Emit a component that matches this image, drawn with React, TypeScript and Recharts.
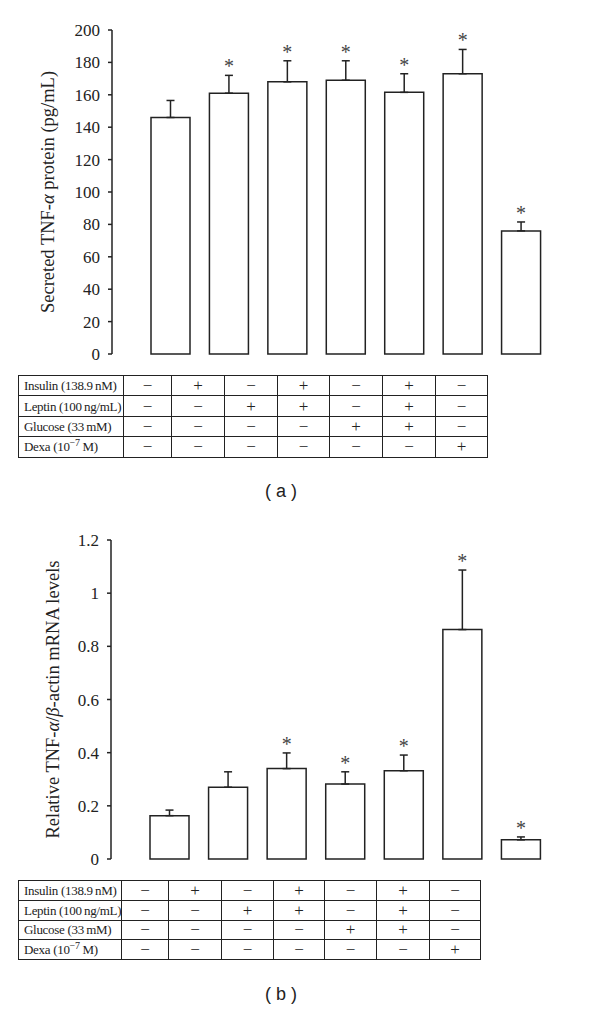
import React from 'react'
import { BarChart, Bar, XAxis, YAxis, ErrorBar, LabelList, Label } from 'recharts'

// treatment groups (columns of the tables under each panel)
const groups = ['G1', 'G2', 'G3', 'G4', 'G5', 'G6', 'G7']

// panel (a): secreted TNF-α protein (pg/mL)
const proteinValues = [146, 161, 168, 169, 161.5, 173, 76]
const proteinErrors = [10.5, 11, 13, 12, 11.5, 15, 5.5]
const proteinStars = [false, true, true, true, true, true, true]
const proteinTicks = [0, 20, 40, 60, 80, 100, 120, 140, 160, 180, 200]

// panel (b): relative TNF-α/β-actin mRNA levels
const mrnaValues = [0.163, 0.27, 0.34, 0.282, 0.332, 0.863, 0.072]
const mrnaErrors = [0.021, 0.058, 0.059, 0.046, 0.059, 0.224, 0.011]
const mrnaStars = [false, false, true, true, true, true, true]
const mrnaTicks = [0, 0.2, 0.4, 0.6, 0.8, 1, 1.2]

// treatment table
const insulinSigns = ['−', '+', '−', '+', '−', '+', '−']
const leptinSigns = ['−', '−', '+', '+', '−', '+', '−']
const glucoseSigns = ['−', '−', '−', '−', '+', '+', '−']
const dexaSigns = ['−', '−', '−', '−', '−', '−', '+']

const SERIF = '"Liberation Serif", "Times New Roman", serif'
const INK = '#222'

const buildData = (values: number[], errors: number[], stars: boolean[]) =>
  groups.map((name, i) => ({ name, value: values[i], err: [0, errors[i]], e: errors[i], star: stars[i] }))

const StarLabel = (props: any) => {
  const vb = props.viewBox || props
  const x = vb.x ?? props.x
  const y = vb.y ?? props.y
  const width = vb.width ?? props.width
  const height = vb.height ?? props.height
  const { index, data } = props
  const d = data[index]
  if (!d || !d.star) return null
  const ppu = height / d.value
  const errTop = y - d.e * ppu
  return (
    <text x={x + width / 2} y={errTop - 2} textAnchor="middle" fontFamily={SERIF} fontSize={20} fill="#444">
      *
    </text>
  )
}

const YTitle = ({ viewBox, parts, cxAbs }: any) => {
  const cy = viewBox.y + viewBox.height / 2
  const cx = cxAbs
  return (
    <text
      x={cx}
      y={cy}
      transform={`rotate(-90 ${cx} ${cy})`}
      textAnchor="middle"
      dominantBaseline="central"
      fontFamily={SERIF}
      fontSize={18.5}
      fill={INK}
    >
      {parts.map((p: any, i: number) => (
        <tspan key={i} fontStyle={p.italic ? 'italic' : 'normal'}>
          {p.t}
        </tspan>
      ))}
    </text>
  )
}

interface PanelProps {
  values: number[]
  errors: number[]
  stars: boolean[]
  ticks: number[]
  max: number
  top: number
  height: number
  marginTop: number
  marginBottom: number
  axisWidth: number
  titleX: number
  titleParts: { t: string; italic?: boolean }[]
}

const Panel: React.FC<PanelProps> = ({
  values, errors, stars, ticks, max, top, height, marginTop, marginBottom, axisWidth, titleX, titleParts,
}) => {
  const data = buildData(values, errors, stars)
  return (
    <div style={{ position: 'absolute', left: 0, top }}>
      <BarChart width={600} height={height} data={data} margin={{ top: marginTop, right: 21, left: 0, bottom: marginBottom }}>
        <XAxis
          dataKey="name"
          tick={false}
          tickLine={false}
          height={0}
          padding={{ left: 29, right: 29 }}
          axisLine={{ stroke: INK, strokeWidth: 1.5 }}
        />
        <YAxis
          width={axisWidth}
          domain={[0, max]}
          ticks={ticks}
          interval={0}
          tickSize={4}
          tickMargin={8}
          axisLine={{ stroke: INK, strokeWidth: 1.5 }}
          tickLine={{ stroke: INK, strokeWidth: 1.5 }}
          tick={{ fill: INK, fontSize: 17, fontFamily: SERIF }}
        >
          <Label content={(p: any) => <YTitle {...p} parts={titleParts} cxAbs={titleX} />} />
        </YAxis>
        <Bar dataKey="value" barSize={39} fill="#fff" stroke={INK} strokeWidth={1.5} isAnimationActive={false}>
          <ErrorBar dataKey="err" width={4} stroke={INK} strokeWidth={1.5} direction="y" />
          <LabelList dataKey="value" content={(p: any) => <StarLabel {...p} data={data} />} />
        </Bar>
      </BarChart>
    </div>
  )
}

const cell: React.CSSProperties = {
  border: `1.5px solid ${INK}`,
  padding: 0,
  textAlign: 'center',
  fontFamily: SERIF,
  fontSize: 17,
  lineHeight: 1,
  color: INK,
}

const labelCell: React.CSSProperties = {
  ...cell,
  textAlign: 'left',
  paddingLeft: 5,
  fontSize: 13,
  letterSpacing: -0.3,
  whiteSpace: 'nowrap',
}

const TreatmentTable: React.FC<{ left: number; top: number; widths: number[]; rowH: number }> = ({ left, top, widths, rowH }) => {
  const rows: { label: React.ReactNode; signs: string[] }[] = [
    { label: 'Insulin (138.9\u2009nM)', signs: insulinSigns },
    { label: 'Leptin (100\u2009ng/mL)', signs: leptinSigns },
    { label: 'Glucose (33\u2009mM)', signs: glucoseSigns },
    { label: <>Dexa (10<sup style={{ fontSize: 10, lineHeight: 0 }}>−7</sup> M)</>, signs: dexaSigns },
  ]
  return (
    <table
      style={{
        position: 'absolute',
        left,
        top,
        borderCollapse: 'collapse',
        tableLayout: 'fixed',
        width: widths.reduce((a, b) => a + b, 0),
      }}
    >
      <colgroup>
        {widths.map((w, i) => (
          <col key={i} style={{ width: w }} />
        ))}
      </colgroup>
      <tbody>
        {rows.map((r, i) => (
          <tr key={i} style={{ height: rowH }}>
            <td style={labelCell}>{r.label}</td>
            {r.signs.map((s, j) => (
              <td key={j} style={cell}>
                {s}
              </td>
            ))}
          </tr>
        ))}
      </tbody>
    </table>
  )
}

const Caption: React.FC<{ text: string; top: number }> = ({ text, top }) => (
  <div
    style={{
      position: 'absolute',
      left: 230,
      width: 102,
      top,
      textAlign: 'center',
      fontFamily: '"Liberation Sans", Arial, sans-serif',
      fontSize: 18,
      color: INK,
      whiteSpace: 'pre',
    }}
  >
    {text}
  </div>
)

export default function App() {
  return (
    <div style={{ position: 'absolute', left: 0, top: 0, width: 600, height: 1012, background: '#fff' }}>
      <Panel
        values={proteinValues}
        errors={proteinErrors}
        stars={proteinStars}
        ticks={proteinTicks}
        max={200}
        top={0}
        height={370}
        marginTop={30}
        marginBottom={16}
        axisWidth={112}
        titleX={48}
        titleParts={[{ t: 'Secreted TNF-' }, { t: 'α', italic: true }, { t: ' protein (pg/mL)' }]}
      />
      <TreatmentTable left={18} top={375} widths={[105, 48, 53, 53, 52, 53, 53, 52]} rowH={20.4} />
      <Caption text="( a )" top={481} />

      <Panel
        values={mrnaValues}
        errors={mrnaErrors}
        stars={mrnaStars}
        ticks={mrnaTicks}
        max={1.2}
        top={500}
        height={380}
        marginTop={40}
        marginBottom={21}
        axisWidth={111}
        titleX={53}
        titleParts={[
          { t: 'Relative TNF-' },
          { t: 'α', italic: true },
          { t: '/' },
          { t: 'β', italic: true },
          { t: '-actin mRNA levels' },
        ]}
      />
      <TreatmentTable left={18} top={880} widths={[103, 47, 53, 52, 51, 52, 53, 51]} rowH={19.75} />
      <Caption text="( b )" top={984} />
    </div>
  )
}
